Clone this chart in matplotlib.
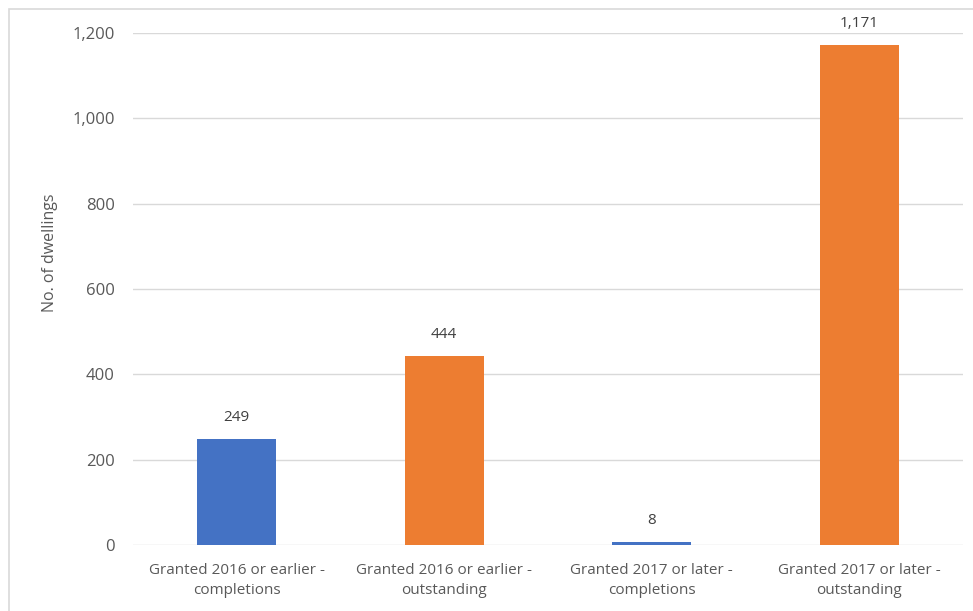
#!/usr/bin/env python3

import matplotlib
matplotlib.use("Agg")
import matplotlib.pyplot as plt
from matplotlib.patches import Rectangle

plt.rcParams['font.family'] = ['Open Sans', 'DejaVu Sans']

categories = [
    "Granted 2016 or earlier -\ncompletions",
    "Granted 2016 or earlier -\noutstanding",
    "Granted 2017 or later -\ncompletions",
    "Granted 2017 or later -\noutstanding",
]
dwellings = [249, 444, 8, 1171]
bar_colours = ["#4472C4", "#ED7D31", "#4472C4", "#ED7D31"]
y_ticks = [0, 200, 400, 600, 800, 1000, 1200]

text_grey = "#595959"
grid_grey = "#D9D9D9"

fig = plt.figure(figsize=(9.73, 6.11), dpi=100, facecolor="white")
ax = fig.add_axes([0.1367, 0.108, 0.853, 0.838])

x = range(len(categories))
bars = ax.bar(x, dwellings, width=0.38, color=bar_colours, zorder=3)

# data labels above bars
for rect, val in zip(bars, dwellings):
    ax.annotate(f"{val:,}",
                xy=(rect.get_x() + rect.get_width() / 2, rect.get_height()),
                xytext=(0, 10), textcoords="offset points",
                ha="center", va="bottom", fontsize=11, color="#404040")

ax.set_xlim(-0.5, len(categories) - 0.5)
ax.set_ylim(0, 1200)
ax.set_yticks(y_ticks)
ax.set_yticklabels([f"{t:,}" for t in y_ticks])
ax.set_xticks(list(x))
ax.set_xticklabels(categories, linespacing=1.45)

ax.tick_params(axis="both", length=0, labelcolor=text_grey)
ax.tick_params(axis="y", pad=13, labelsize=12)
ax.tick_params(axis="x", pad=13, labelsize=11)
ax.grid(axis="y", color=grid_grey, linewidth=1, zorder=0)
for s in ax.spines.values():
    s.set_visible(False)

ax.set_ylabel("No. of dwellings", fontsize=11.5, color=text_grey)
ax.yaxis.set_label_coords(-0.09, 0.57)

# chart area border (cut off on right and bottom)
fig.patches.append(Rectangle((9 / 973, -0.1), 1.2, 1 - 9 / 611 + 0.1,
                             transform=fig.transFigure, fill=False,
                             edgecolor=grid_grey, linewidth=1.2))

fig.savefig("out.png", dpi=100, facecolor="white")
